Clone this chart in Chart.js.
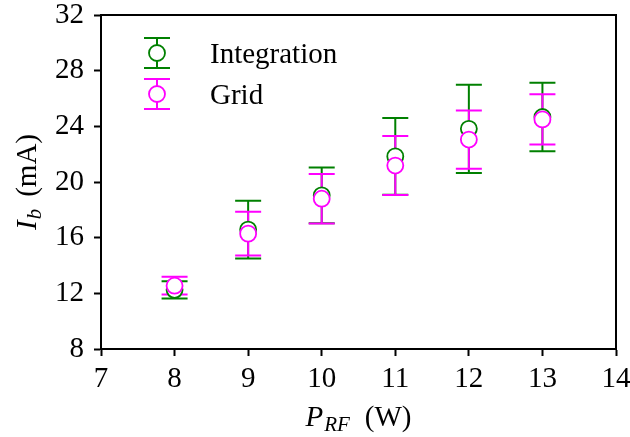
<!DOCTYPE html>
<html>
<head>
<meta charset="utf-8">
<script src="https://cdn.jsdelivr.net/npm/chart.js@4.4.1/dist/chart.umd.min.js"></script>
<style>
  html, body { margin: 0; padding: 0; background: #fff; }
  #wrap { width: 630px; height: 437px; }
</style>
</head>
<body>
<div id="wrap"><canvas id="c" width="630" height="437"></canvas></div>
<script>
// ---- data ----
const powerRF = [8, 9, 10, 11, 12, 13];
const integrationCurrent = [12.25, 16.58, 19.04, 21.84, 23.82, 24.67];
const integrationErr = [0.62, 2.07, 2.01, 2.75, 3.17, 2.46];
const gridCurrent = [12.55, 16.29, 18.80, 21.18, 23.05, 24.50];
const gridErr = [0.64, 1.57, 1.78, 2.12, 2.09, 1.80];
const xTicks = [7, 8, 9, 10, 11, 12, 13, 14];
const yTicks = [8, 12, 16, 20, 24, 28, 32];
const seriesNames = ['Integration', 'Grid'];

const GREEN = '#008000';
const MAGENTA = '#ff00ff';
const FONT = '"Liberation Serif", "Times New Roman", serif';
const FS = 29;

const toPts = (ys) => powerRF.map((x, i) => ({ x: x, y: ys[i] }));

const errorBarPlugin = {
  id: 'errorBars',
  beforeDatasetsDraw(chart) {
    const ctx = chart.ctx;
    const xs = chart.scales.x, ys = chart.scales.y;
    const sets = [
      { vals: integrationCurrent, err: integrationErr, color: GREEN },
      { vals: gridCurrent, err: gridErr, color: MAGENTA }
    ];
    ctx.save();
    sets.forEach(s => {
      ctx.strokeStyle = s.color;
      ctx.lineWidth = 2;
      powerRF.forEach((xv, i) => {
        const px = xs.getPixelForValue(xv);
        const top = ys.getPixelForValue(s.vals[i] + s.err[i]);
        const bot = ys.getPixelForValue(s.vals[i] - s.err[i]);
        ctx.beginPath();
        ctx.moveTo(px, top); ctx.lineTo(px, bot);
        ctx.moveTo(px - 13, top); ctx.lineTo(px + 13, top);
        ctx.moveTo(px - 13, bot); ctx.lineTo(px + 13, bot);
        ctx.stroke();
      });
    });
    ctx.restore();
  },
  afterDraw(chart) {
    const ctx = chart.ctx;
    const a = chart.chartArea;
    ctx.save();
    // top and right spines
    ctx.strokeStyle = '#000';
    ctx.lineWidth = 2;
    ctx.beginPath();
    ctx.moveTo(a.left - 1, a.top); ctx.lineTo(a.right, a.top); ctx.lineTo(a.right, a.bottom + 1);
    ctx.stroke();

    // legend
    const items = [
      { name: seriesNames[0], color: GREEN, y: 53 },
      { name: seriesNames[1], color: MAGENTA, y: 94 }
    ];
    items.forEach(it => {
      const mx = 157;
      ctx.strokeStyle = it.color;
      ctx.lineWidth = 2;
      ctx.beginPath();
      ctx.moveTo(mx, it.y - 15); ctx.lineTo(mx, it.y + 15);
      ctx.moveTo(mx - 13, it.y - 15); ctx.lineTo(mx + 13, it.y - 15);
      ctx.moveTo(mx - 13, it.y + 15); ctx.lineTo(mx + 13, it.y + 15);
      ctx.stroke();
      ctx.beginPath();
      ctx.arc(mx, it.y, 8, 0, Math.PI * 2);
      ctx.fillStyle = '#fff';
      ctx.fill();
      ctx.lineWidth = 1.8;
      ctx.stroke();
      ctx.fillStyle = '#000';
      ctx.font = FS + 'px ' + FONT;
      ctx.textBaseline = 'alphabetic';
      ctx.textAlign = 'left';
      ctx.fillText(it.name, 210, it.y + 9.5);
    });

    // axis titles with subscripts
    function drawTitle(parts, cx, cy, rotate) {
      ctx.save();
      ctx.translate(cx, cy);
      if (rotate) ctx.rotate(-Math.PI / 2);
      let total = 0;
      parts.forEach(p => { ctx.font = p.font; total += ctx.measureText(p.t).width + (p.gap || 0); });
      let x = -total / 2;
      ctx.fillStyle = '#000';
      ctx.textBaseline = 'alphabetic';
      ctx.textAlign = 'left';
      parts.forEach(p => {
        ctx.font = p.font;
        x += (p.gap || 0);
        ctx.fillText(p.t, x, 10 + (p.dy || 0));
        x += ctx.measureText(p.t).width;
      });
      ctx.restore();
    }
    const it = 'italic ' + FS + 'px ' + FONT;
    const itSub = 'italic 21px ' + FONT;
    const rm = FS + 'px ' + FONT;
    drawTitle([
      { t: 'P', font: it },
      { t: 'RF', font: itSub, dy: 5, gap: 1 },
      { t: '(W)', font: rm, gap: 15 }
    ], (a.left + a.right) / 2, 416, false);
    drawTitle([
      { t: 'I', font: it },
      { t: 'b', font: itSub, dy: 5, gap: 1 },
      { t: '(mA)', font: rm, gap: 12 }
    ], 26, (a.top + a.bottom) / 2, true);
    ctx.restore();
  }
};

new Chart(document.getElementById('c'), {
  type: 'scatter',
  data: {
    datasets: [
      {
        label: seriesNames[0],
        data: toPts(integrationCurrent),
        borderColor: GREEN,
        backgroundColor: '#fff',
        pointRadius: 8,
        pointBorderWidth: 1.8,
        order: 1
      },
      {
        label: seriesNames[1],
        data: toPts(gridCurrent),
        borderColor: MAGENTA,
        backgroundColor: '#fff',
        pointRadius: 8,
        pointBorderWidth: 1.8,
        order: 0
      }
    ]
  },
  options: {
    responsive: false,
    devicePixelRatio: 1,
    animation: false,
    layout: { padding: { left: 0, right: 14, top: 15, bottom: 0 } },
    plugins: { legend: { display: false }, tooltip: { enabled: false } },
    scales: {
      x: {
        type: 'linear',
        min: 7, max: 14,
        afterBuildTicks(scale) { scale.ticks = xTicks.map(v => ({ value: v })); },
        afterFit(scale) { scale.height = 88; scale.paddingLeft = 0; scale.paddingRight = 0; },
        grid: { drawOnChartArea: false, drawTicks: true, tickLength: 7, tickWidth: 2, tickColor: '#000' },
        border: { display: true, color: '#000', width: 2 },
        ticks: { color: '#000', font: { family: FONT, size: FS }, padding: 6, maxRotation: 0, autoSkip: false }
      },
      y: {
        type: 'linear',
        min: 8, max: 32,
        afterBuildTicks(scale) { scale.ticks = yTicks.map(v => ({ value: v })); },
        afterFit(scale) { scale.width = 101; scale.paddingTop = 0; scale.paddingBottom = 0; },
        grid: { drawOnChartArea: false, drawTicks: true, tickLength: 7, tickWidth: 2, tickColor: '#000' },
        border: { display: true, color: '#000', width: 2 },
        ticks: { color: '#000', font: { family: FONT, size: FS }, padding: 10, autoSkip: false }
      }
    }
  },
  plugins: [errorBarPlugin]
});
</script>
</body>
</html>
